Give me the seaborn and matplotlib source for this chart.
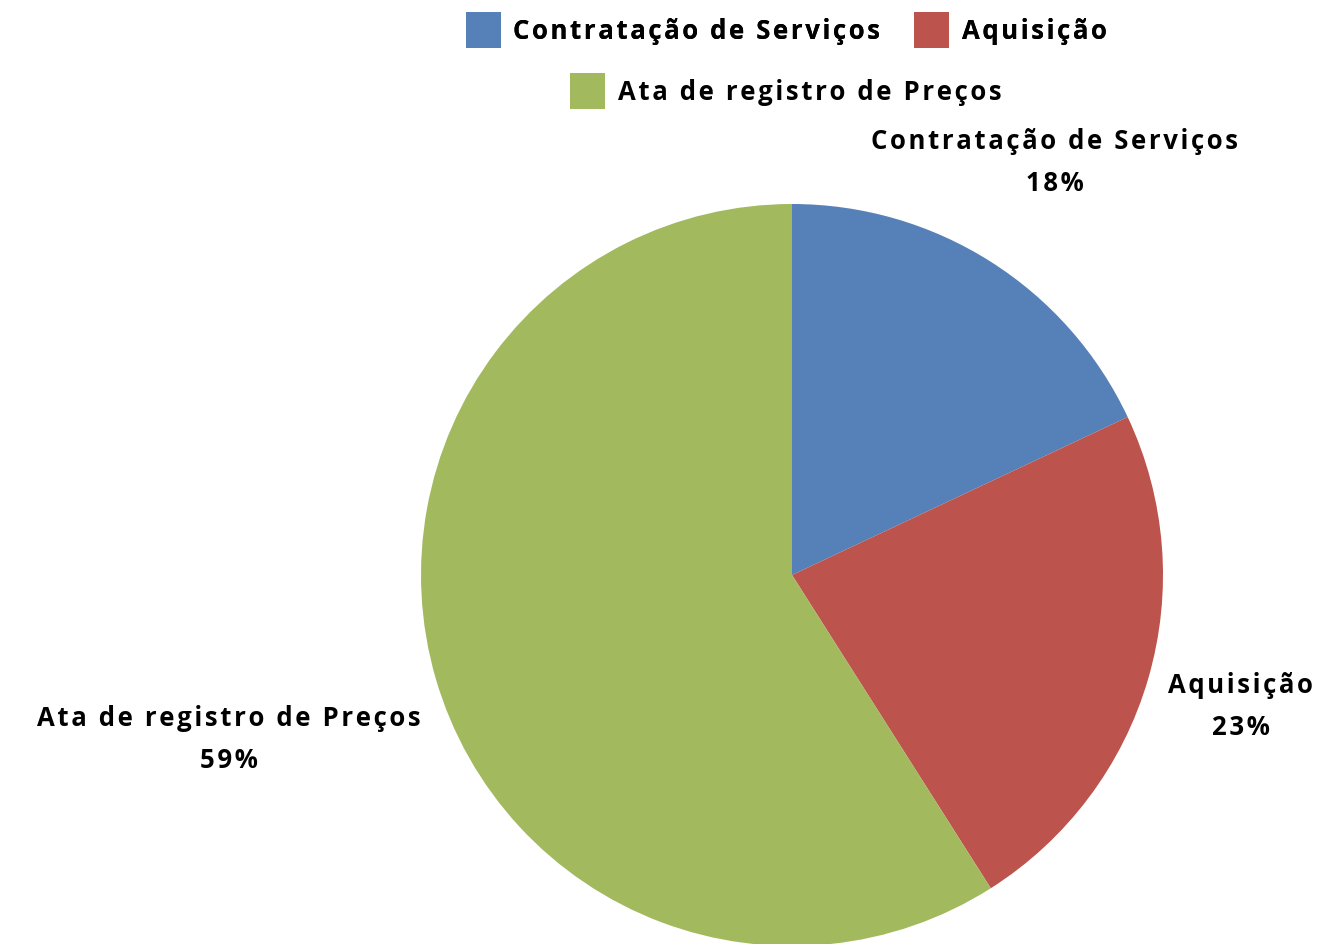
import matplotlib
matplotlib.use("Agg")
import matplotlib.pyplot as plt
import seaborn as sns
import numpy as np

categories = ["Contratação de Serviços", "Aquisição", "Ata de registro de Preços"]
values = [18, 23, 59]
colors = ["#5681B8", "#BC534C", "#A2B95E"]
label_dist = [1.32, 1.26, 1.58]

sns.set_theme(style="white")
plt.rcParams['font.family'] = ['Open Sans', 'DejaVu Sans']
plt.rcParams['text.color'] = 'black'

HS = "\u200a"
def spaced(s):
    return HS.join(list(s))

W, H = 1344, 945
fig = plt.figure(figsize=(W / 100, H / 100), dpi=100)
R = 371
cx, cy = 792, 945 - 576
ax = fig.add_axes([(cx - R) / W, (cy - R) / H, 2 * R / W, 2 * R / H])

wedges, _ = ax.pie(values, colors=colors, startangle=90, counterclock=False,
                   radius=1, wedgeprops=dict(linewidth=0))
ax.set_xlim(-1, 1)
ax.set_ylim(-1, 1)
ax.set_aspect("equal")
ax.axis("off")

fs = 18.5
total = sum(values)
for w, cat, v, d in zip(wedges, categories, values, label_dist):
    mid = np.deg2rad((w.theta1 + w.theta2) / 2)
    x, y = d * np.cos(mid), d * np.sin(mid)
    pct = round(100 * v / total)
    ax.text(x, y, spaced(cat) + "\n" + spaced(f"{pct}%"), ha="center", va="center",
            fontsize=fs, fontweight="bold", color="black", linespacing=1.7,
            clip_on=False)

common = dict(loc="center", frameon=False, prop=dict(size=fs, weight="bold"),
              handlelength=1.36, handleheight=1.75, handletextpad=0.5,
              labelcolor="black")
leg1 = fig.legend(wedges[:2], [spaced(c) for c in categories[:2]], ncol=2,
                  bbox_to_anchor=(786 / W, 1 - 31 / H), columnspacing=1.3, **common)
fig.add_artist(leg1)
leg2 = fig.legend(wedges[2:], [spaced(categories[2])], ncol=1,
                  bbox_to_anchor=(786 / W, 1 - 92 / H), **common)

fig.savefig("out.png", dpi=100)
